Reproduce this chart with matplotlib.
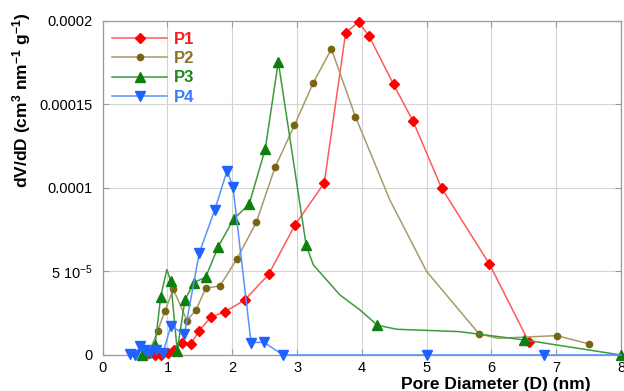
import numpy as np
import matplotlib
matplotlib.use('Agg')
import matplotlib.pyplot as plt
from matplotlib.ticker import FixedLocator

plt.rcParams['font.family'] = ['Liberation Sans', 'DejaVu Sans']
plt.rcParams['mathtext.fontset'] = 'custom'
plt.rcParams['mathtext.rm'] = 'Liberation Sans'
plt.rcParams['mathtext.bf'] = 'Liberation Sans:bold'
plt.rcParams['mathtext.it'] = 'Liberation Sans:italic'

# pore size distributions, dV/dD vs D (nm); *_mk = which points carry a marker
p1_x = [0.80, 0.90, 1.01, 1.10, 1.23, 1.36, 1.49, 1.67, 1.89, 2.19, 2.56, 2.97,
        3.42, 3.75, 3.95, 4.11, 4.49, 4.79, 5.23, 5.97, 6.58]
p1_y = [0, 0, 1.0e-6, 3.0e-6, 7.4e-6, 6.6e-6, 1.46e-5, 2.26e-5, 2.6e-5, 3.28e-5,
        4.82e-5, 7.8e-5, 1.03e-4, 1.93e-4, 1.994e-4, 1.91e-4, 1.62e-4, 1.40e-4,
        1.0e-4, 5.44e-5, 7.6e-6]
p1_mk = [True] * len(p1_x)

p2_x = [0.70, 0.85, 0.96, 1.09, 1.30, 1.44, 1.59, 1.81, 2.07, 2.37, 2.66, 2.96,
        3.25, 3.53, 3.90, 4.43, 5.00, 5.81, 6.10, 7.01, 7.51]
p2_y = [0, 1.46e-5, 2.64e-5, 3.94e-5, 2.06e-5, 2.7e-5, 4.0e-5, 4.14e-5, 5.74e-5,
        7.94e-5, 1.124e-4, 1.376e-4, 1.63e-4, 1.832e-4, 1.428e-4, 9.3e-5, 5.0e-5,
        1.26e-5, 1.0e-5, 1.16e-5, 6.6e-6]
p2_mk = [True] * 15 + [False, False, True, False, True, True]

p3_x = [0.61, 0.81, 0.895, 0.99, 1.05, 1.15, 1.27, 1.41, 1.59, 1.78, 2.02, 2.26,
        2.51, 2.71, 3.14, 3.25, 3.66, 3.97, 4.24, 4.54, 5.50, 6.51, 8.0]
p3_y = [0, 6.2e-6, 3.5e-5, 5.12e-5, 4.42e-5, 2.5e-6, 3.3e-5, 4.34e-5, 4.66e-5,
        6.46e-5, 8.14e-5, 9.02e-5, 1.236e-4, 1.756e-4, 6.58e-5, 5.4e-5, 3.6e-5,
        2.7e-5, 1.78e-5, 1.54e-5, 1.4e-5, 9.0e-6, 0]
p3_mk = [True, True, True, False] + [True] * 11 + [False, False, False, True,
                                                   False, False, True, True]

p4_x = [0.42, 0.50, 0.58, 0.65, 0.73, 0.83, 0.93, 1.05, 1.26, 1.49, 1.73, 1.92,
        2.01, 2.29, 2.49, 2.78, 5.0, 6.81, 8.0]
p4_y = [6e-7, 0, 5.4e-6, 3.0e-6, 1.4e-6, 3.0e-6, 1.0e-6, 1.74e-5, 1.24e-5,
        6.1e-5, 8.7e-5, 1.104e-4, 1.008e-4, 7.4e-6, 7.6e-6, 0, 0, 0, 0]
p4_mk = [True] * 18 + [False]

series = [
    ('P1', p1_x, p1_y, p1_mk, '#ff5a5a', '#ff0000', 'D', 5.0, '#ff1a1a'),
    ('P2', p2_x, p2_y, p2_mk, '#a89a68', '#7a6414', 'o', 4.5, '#8a7424'),
    ('P3', p3_x, p3_y, p3_mk, '#3c9a3c', '#0e7e0e', '^', 7.0, '#1a8a1a'),
    ('P4', p4_x, p4_y, p4_mk, '#5a90ff', '#1e62ff', 'v', 7.0, '#3a7aff'),
]

fig = plt.figure(figsize=(6.24, 3.91), dpi=100)
ax = fig.add_axes([0.1646, 0.0921, 0.8306, 0.8542])

for name, x, y, mk, lc, mc, m, ms, tc in series:
    ax.plot(x, y, color=lc, lw=1.1, marker=m, ms=ms, mfc=mc, mec=mc,
            markevery=mk, label=name, clip_on=False, zorder=3)

ax.set_xlim(0, 8)
ax.set_ylim(0, 0.0002)
ax.xaxis.set_major_locator(FixedLocator(range(0, 9)))
ax.yaxis.set_major_locator(FixedLocator([0, 5e-5, 1e-4, 1.5e-4, 2e-4]))
ax.set_xticklabels([str(i) for i in range(9)])
ax.set_yticklabels(['0', '5 10$^{-5}$', '0.0001', '0.00015', '0.0002'])

ax.grid(True, color='#d4d4d4', lw=0.8)
ax.set_axisbelow(True)
for s in ax.spines.values():
    s.set_color('#9a9a9a')
    s.set_linewidth(0.9)
ax.tick_params(direction='in', length=4, color='#9a9a9a', labelsize=10.5,
               top=True, right=True)
ax.tick_params(axis='y', pad=7)
ax.tick_params(axis='x', pad=4)

leg = ax.legend(loc='upper left', bbox_to_anchor=(0.018, 0.967), frameon=False,
                borderpad=0, borderaxespad=0, handlelength=3.3,
                handletextpad=0.4, labelspacing=0.25,
                prop={'weight': 'bold', 'size': 12})
for t, s in zip(leg.get_texts(), series):
    t.set_color(s[8])

fig.text(22 / 624, 1 - 100 / 391,
         r'dV/dD (cm$^\mathbf{3}$ nm$^\mathbf{-1}$ g$^\mathbf{-1}$)',
         rotation=90, ha='center', va='center', fontsize=12.5, fontweight='bold')
fig.text(496 / 624, 1 - 389 / 391, 'Pore Diameter (D) (nm)',
         ha='center', va='baseline', fontsize=12.5, fontweight='bold')

fig.savefig('out.png', dpi=100)
